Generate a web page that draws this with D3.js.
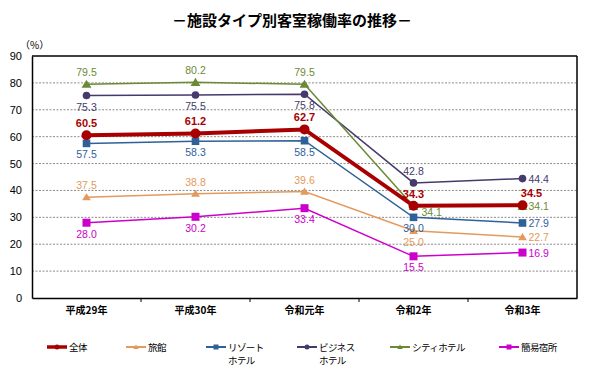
<!DOCTYPE html>
<html><head><meta charset="utf-8">
<script src="https://cdn.jsdelivr.net/npm/d3@7/dist/d3.min.js"></script>
<style>body{margin:0;background:#fff}svg{display:block}</style>
</head><body><svg id="c" width="602" height="366"></svg>
<script>
const categories = ["平成29年","平成30年","令和元年","令和2年","令和3年"];
const yTicks = [0,10,20,30,40,50,60,70,80,90];
const zentai   = [60.5,61.2,62.7,34.3,34.5];
const ryokan   = [37.5,38.8,39.6,25.0,22.7];
const resort   = [57.5,58.3,58.5,30.0,27.9];
const business = [75.3,75.5,75.8,42.8,44.4];
const city     = [79.5,80.2,79.5,34.1,34.1];
const kani     = [28.0,30.2,33.4,15.5,16.9];

const series = [
  {name:["全体"], values:zentai, color:"#a80000", width:4, marker:"circle", size:5, bold:true, pos:["a","a","a","a","ar"]},
  {name:["旅館"], values:ryokan, color:"#e39a5c", width:1.5, marker:"triangle", size:4, pos:["a","a","a","b","r"]},
  {name:["リゾート","ホテル"], values:resort, color:"#2f6199", width:1.5, marker:"square", size:3.8, pos:["b","b","b","b","r"]},
  {name:["ビジネス","ホテル"], values:business, color:"#453a6b", width:1.5, marker:"circle", size:3.8, pos:["b","b","b","a","r"]},
  {name:["シティホテル"], values:city, color:"#6b8a35", width:1.5, marker:"triangle", size:4.5, pos:["a","a","a","rb","r"]},
  {name:["簡易宿所"], values:kani, color:"#cc00cc", width:1.5, marker:"square", size:4, pos:["b","b","b","b","r"]}
];

const svg = d3.select("#c");
const L=32, R=577, T=56, B=298;
const x = d3.scaleBand().domain(categories).range([L,R]);
const y = d3.scaleLinear().domain([0,90]).range([B,T]);
const cx = c => x(c)+x.bandwidth()/2;

svg.append("text").attr("x",292).attr("y",26).attr("text-anchor","middle")
  .attr("font-family","'Noto Sans CJK JP'").attr("font-weight","bold").attr("font-size",15)
  .text("－施設タイプ別客室稼働率の推移－");

// grid
svg.append("g").selectAll("line").data(yTicks.filter(t=>t>0&&t<90)).join("line")
  .attr("x1",L).attr("x2",R).attr("y1",d=>y(d)).attr("y2",d=>y(d))
  .attr("stroke","#8c8c8c").attr("stroke-width",1).attr("stroke-dasharray","2,1.5");
// frame top/right
svg.append("line").attr("x1",L).attr("x2",R).attr("y1",T).attr("y2",T).attr("stroke","#000").attr("stroke-width",1.5);
svg.append("line").attr("x1",R).attr("x2",R).attr("y1",T).attr("y2",B).attr("stroke","#000").attr("stroke-width",1.5);

// y axis
const ya = svg.append("g").attr("transform",`translate(${L},0)`)
  .call(d3.axisLeft(y).tickValues(yTicks).tickSize(0).tickPadding(10).tickFormat(d3.format("d")));
ya.select(".domain").attr("stroke","#000").attr("stroke-width",1.5);
ya.selectAll("text").attr("font-family","'Liberation Sans',Arial").attr("font-size",11).attr("fill","#000");

// x axis
const xa = svg.append("g").attr("transform",`translate(0,${B})`)
  .call(d3.axisBottom(x).tickSize(0).tickPadding(9));
xa.select(".domain").attr("stroke","#000").attr("stroke-width",1.5);
xa.selectAll("text").attr("font-family","'Noto Sans CJK JP'").attr("font-size",10).attr("font-weight","bold").attr("fill","#000");
svg.append("g").selectAll("line").data(categories.slice(1)).join("line")
  .attr("x1",d=>x(d)).attr("x2",d=>x(d)).attr("y1",B).attr("y2",B+4).attr("stroke","#000").attr("stroke-width",1);

svg.append("text").attr("x",20).attr("y",49).attr("font-family","'Noto Sans CJK JP'").attr("font-size",10).text("（%）");

function marker(g, type, size, color, px, py){
  if(type==="circle") g.append("circle").attr("cx",px).attr("cy",py).attr("r",size).attr("fill",color);
  else if(type==="square") g.append("rect").attr("x",px-size).attr("y",py-size).attr("width",size*2).attr("height",size*2).attr("fill",color);
  else g.append("path").attr("d",`M${px},${py-size}L${px+size*1.1},${py+size*0.8}L${px-size*1.1},${py+size*0.8}Z`).attr("fill",color);
}

const line = d3.line().x((d,i)=>cx(categories[i])).y(d=>y(d));
const order = [1,5,2,3,4,0];
order.forEach(si=>{
  const s=series[si];
  const g=svg.append("g");
  g.append("path").datum(s.values).attr("d",line).attr("fill","none").attr("stroke",s.color).attr("stroke-width",s.width);
  s.values.forEach((v,i)=>marker(g,s.marker,s.size,s.color,cx(categories[i]),y(v)));
});
order.forEach(si=>{
  const s=series[si];
  s.values.forEach((v,i)=>{
    const px=cx(categories[i]), py=y(v), p=s.pos[i];
    let tx=px, ty=py, anchor="middle";
    if(p==="a"){ty=py-8;}
    else if(p==="b"){ty=py+15;}
    else if(p==="ar"){tx=px+9;ty=py-8;}
    else if(p==="r"){tx=px+6;ty=py+4;anchor="start";}
    else if(p==="rb"){tx=px+8;ty=py+10;anchor="start";}
    svg.append("text").attr("x",tx).attr("y",ty).attr("text-anchor",anchor)
      .attr("font-family","'Liberation Sans',Arial").attr("font-size",s.bold?11:10.5)
      .attr("font-weight",s.bold?"bold":"normal").attr("fill",s.color).text(v.toFixed(1));
  });
});

// legend
const legX=[47,126,206,297,390,499];
series.forEach((s,i)=>{
  const g=svg.append("g");
  const lx=legX[i], ly=347;
  g.append("line").attr("x1",lx).attr("x2",lx+20).attr("y1",ly).attr("y2",ly).attr("stroke",s.color).attr("stroke-width",s.width===4?3.5:2);
  marker(g,s.marker,2.5,s.color,lx+10,ly);
  s.name.forEach((n,j)=>g.append("text").attr("x",lx+22).attr("y",ly+4+j*13)
    .attr("font-family","'Noto Sans CJK JP'").attr("font-size",9.5).attr("letter-spacing",-0.6).attr("fill","#000").text(n));
});
</script></body></html>
